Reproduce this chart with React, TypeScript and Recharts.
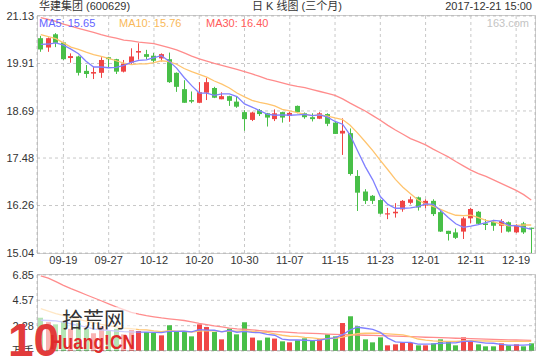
import React from 'react';
import { ComposedChart, Bar, Line, XAxis, YAxis, CartesianGrid } from 'recharts';

const dates = [
  '09-14','09-15','09-18','09-19','09-20','09-21','09-22','09-25','09-26','09-27','09-28','09-29',
  '10-09','10-10','10-11','10-12','10-13','10-16','10-17','10-18','10-19','10-20','10-23','10-24','10-25','10-26','10-27','10-30','10-31',
  '11-01','11-02','11-03','11-06','11-07','11-08','11-09','11-10','11-13','11-14','11-15','11-16','11-17','11-20','11-21','11-22','11-23','11-24','11-27','11-28','11-29','11-30',
  '12-01','12-04','12-05','12-06','12-07','12-08','12-11','12-12','12-13','12-14','12-15','12-18','12-19','12-20','12-21',
];
const opens = [20.56,20.32,20.66,20.45,20.05,20.09,19.72,19.65,19.67,20.07,20.02,19.70,19.93,20.19,20.15,20.11,20.04,20.02,19.67,19.25,18.97,18.90,19.16,19.28,18.99,19.07,18.93,18.66,18.46,18.71,18.63,18.48,18.66,18.56,18.82,18.63,18.53,18.49,18.61,18.39,18.11,18.12,17.02,16.62,16.51,16.40,16.03,16.06,16.16,16.33,16.47,16.26,16.38,16.09,15.61,15.57,15.59,15.93,16.10,15.80,15.84,15.74,15.83,15.57,15.80,15.69];
const highs = [20.62,20.58,20.69,20.46,20.17,20.11,19.87,19.83,20.07,20.08,20.03,20.00,20.30,20.43,20.26,20.18,20.17,20.19,19.68,19.48,19.19,19.43,19.54,19.31,19.17,19.08,19.05,18.71,18.67,18.74,18.64,18.73,18.67,18.67,18.83,18.65,18.63,18.66,18.63,18.41,18.50,18.24,17.17,16.68,16.53,16.42,16.20,16.32,16.40,16.49,16.49,16.42,16.42,16.12,15.61,15.67,15.97,16.20,16.12,15.91,15.89,15.91,15.85,15.78,15.84,15.69];
const lows = [20.21,20.21,20.33,20.00,19.93,19.60,19.54,19.51,19.54,19.79,19.64,19.68,19.90,20.01,20.02,19.92,19.96,19.41,19.18,18.90,18.89,18.89,18.97,19.02,18.99,18.82,18.77,18.18,18.43,18.56,18.29,18.43,18.39,18.41,18.63,18.49,18.42,18.48,18.30,18.10,17.56,17.03,16.12,16.30,16.30,16.03,15.91,15.95,16.10,16.29,16.13,16.19,15.99,15.58,15.36,15.40,15.40,15.80,15.76,15.63,15.61,15.56,15.57,15.55,15.53,15.04];
const closes = [20.27,20.56,20.44,20.02,20.10,19.67,19.64,19.69,20.00,20.02,19.70,19.90,20.09,20.23,20.08,19.98,20.15,19.43,19.31,18.90,18.93,19.17,19.43,19.03,19.07,18.95,18.80,18.48,18.65,18.61,18.52,18.63,18.52,18.64,18.66,18.53,18.48,18.63,18.36,18.10,18.18,17.07,16.59,16.38,16.38,16.05,16.06,16.10,16.38,16.42,16.21,16.38,16.04,15.59,15.53,15.43,15.93,16.17,15.79,15.76,15.74,15.86,15.59,15.74,15.57,15.66];
const ma5 = [20.40,20.41,20.44,20.38,20.28,20.16,19.97,19.82,19.82,19.80,19.81,19.86,19.94,19.99,20.00,20.06,20.11,19.97,19.79,19.55,19.34,19.15,19.15,19.09,19.13,19.13,19.06,18.87,18.79,18.70,18.61,18.58,18.59,18.58,18.59,18.60,18.57,18.59,18.53,18.42,18.35,18.07,17.66,17.26,16.92,16.49,16.29,16.19,16.19,16.20,16.23,16.30,16.29,16.13,15.95,15.79,15.70,15.73,15.77,15.82,15.88,15.86,15.75,15.74,15.70,15.65];
const ma10 = [20.65,20.60,20.55,20.44,20.33,20.27,20.20,20.14,20.09,20.04,19.98,19.92,19.88,19.90,19.90,19.93,19.98,19.96,19.89,19.78,19.70,19.63,19.56,19.46,19.38,19.28,19.15,19.05,18.96,18.91,18.87,18.82,18.73,18.69,18.65,18.60,18.57,18.59,18.56,18.51,18.47,18.32,18.12,17.90,17.67,17.42,17.18,16.93,16.73,16.56,16.40,16.30,16.24,16.16,16.08,16.01,16.00,16.01,15.95,15.88,15.84,15.78,15.74,15.75,15.76,15.76];
const ma30 = [21.09,21.04,20.99,20.92,20.87,20.81,20.76,20.71,20.65,20.60,20.56,20.51,20.49,20.46,20.44,20.42,20.37,20.32,20.26,20.18,20.10,20.03,19.97,19.91,19.86,19.81,19.76,19.70,19.64,19.58,19.51,19.46,19.41,19.36,19.32,19.29,19.24,19.19,19.14,19.09,19.00,18.89,18.79,18.69,18.57,18.45,18.32,18.20,18.09,17.98,17.90,17.82,17.71,17.61,17.51,17.39,17.28,17.17,17.08,17.01,16.92,16.83,16.74,16.65,16.54,16.40];
const volumes = [3.0,2.6,2.4,2.7,2.0,2.5,2.0,1.6,2.2,1.8,2.0,1.5,1.9,1.80,1.71,1.62,1.41,2.32,1.77,1.77,1.32,2.40,2.16,1.71,1.05,2.02,1.50,2.59,1.21,0.96,1.21,1.12,0.87,0.78,0.96,1.14,0.96,1.05,1.50,1.32,2.52,3.13,2.23,1.05,0.78,1.23,0.51,0.60,0.78,0.72,0.51,0.51,0.69,1.05,0.87,0.51,1.23,0.81,0.60,0.42,0.42,0.69,0.51,0.60,0.42,0.69];
const volMa5 = [2.77,2.75,2.72,2.60,2.45,2.30,2.15,2.00,1.90,1.85,1.80,1.75,1.72,1.71,1.70,1.68,1.66,1.77,1.77,1.78,1.72,1.92,1.88,1.87,1.73,1.87,1.69,1.77,1.67,1.66,1.49,1.42,1.07,0.99,0.99,0.97,0.94,0.98,1.12,1.19,1.47,1.90,2.14,2.05,1.94,1.68,1.16,0.83,0.78,0.77,0.62,0.62,0.64,0.70,0.73,0.73,0.87,0.89,0.80,0.71,0.70,0.59,0.53,0.53,0.53,0.58];
const volMa10 = [3.82,3.60,3.37,3.20,3.00,2.85,2.70,2.55,2.40,2.28,2.18,2.07,2.02,1.93,1.90,1.81,1.75,1.83,1.78,1.78,1.71,1.80,1.83,1.82,1.75,1.79,1.80,1.83,1.77,1.69,1.68,1.55,1.42,1.33,1.32,1.23,1.18,1.10,1.12,1.15,1.25,1.42,1.56,1.60,1.62,1.60,1.55,1.50,1.45,1.30,1.08,0.98,0.92,0.88,0.87,0.87,0.90,0.93,0.92,0.90,0.89,0.88,0.87,0.87,0.87,0.87];
const volMa30 = [6.78,6.57,6.25,5.92,5.62,5.35,5.07,4.80,4.53,4.25,3.98,3.73,3.48,3.32,3.19,3.08,2.98,2.90,2.83,2.75,2.62,2.48,2.37,2.26,2.17,2.07,2.00,1.96,1.91,1.84,1.78,1.75,1.72,1.68,1.64,1.62,1.59,1.56,1.53,1.50,1.48,1.46,1.44,1.42,1.40,1.38,1.36,1.34,1.32,1.30,1.27,1.24,1.22,1.20,1.18,1.15,1.13,1.12,1.10,1.07,1.05,1.03,1.01,0.99,0.98,0.96];

const priceTicks = [15.04, 16.26, 17.48, 18.69, 19.91, 21.13];
const volTicks = [0, 2.28, 4.57, 6.85];
const dateTicks = ['09-19','09-27','10-12','10-20','10-30','11-07','11-15','11-23','12-01','12-11','12-19'];

const RED = '#f04545';
const GREEN = '#48bf48';
const C_MA5 = '#8080ff';
const C_MA10 = '#ffc46e';
const C_MA30 = '#ff8c8c';
const FONT = "'Liberation Sans', 'Noto Sans CJK SC', sans-serif";

const data = dates.map((d, i) => ({
  date: d,
  open: opens[i],
  high: highs[i],
  low: lows[i],
  close: closes[i],
  range: [lows[i], highs[i]],
  ma5: ma5[i],
  ma10: ma10[i],
  ma30: ma30[i],
  vol: volumes[i],
  vma5: volMa5[i],
  vma10: volMa10[i],
  vma30: volMa30[i],
}));

const Candle = (props: any) => {
  const { x, y, width, height, payload } = props;
  if (!payload) return null;
  const { open, close, high, low } = payload;
  const up = close >= open;
  const color = up ? RED : GREEN;
  const top0 = Math.min(y, y + height);
  const h = Math.abs(height);
  const ratio = h / (high - low);
  const yOf = (v: number) => top0 + (high - v) * ratio;
  const bTop = yOf(Math.max(open, close));
  const bBot = yOf(Math.min(open, close));
  const cx = Math.floor(x + width / 2) + 0.5;
  const bx = cx - 2.5;
  return (
    <g>
      <line x1={cx} x2={cx} y1={top0} y2={top0 + h} stroke={color} strokeWidth={1} />
      <rect x={bx} y={bTop} width={5} height={Math.max(1, bBot - bTop)} fill={color} />
    </g>
  );
};

const VolBar = (props: any) => {
  const { x, y, width, height, payload } = props;
  if (!payload) return null;
  const up = payload.close >= payload.open;
  const cx = Math.floor(x + width / 2) + 0.5;
  const top0 = Math.min(y, y + height);
  return <rect x={cx - 2.5} y={top0} width={5} height={Math.abs(height)} fill={up ? RED : GREEN} />;
};

const tickStyle = { fontSize: 11, fill: '#333', fontFamily: FONT };

export default function App() {
  return (
    <div style={{ position: 'absolute', left: 0, top: 0, width: 540, height: 360, background: '#fff', overflow: 'hidden', fontFamily: FONT }}>
      <div style={{ position: 'absolute', left: 0, top: 0 }}>
        <ComposedChart width={540} height={273} data={data} margin={{ top: 16, right: 5, bottom: 0, left: 0 }}>
          <CartesianGrid stroke="#c8c8c8" strokeDasharray="3 3" />
          <XAxis dataKey="date" ticks={dateTicks} interval={0} tickLine={false} axisLine={false} tickSize={0} tickMargin={3} height={20} tick={tickStyle} />
          <YAxis domain={[15.04, 21.13]} ticks={priceTicks} allowDataOverflow tickLine={false} axisLine={false} tickSize={0} tickMargin={3} width={37} tick={tickStyle} tickFormatter={(v: number) => v.toFixed(2)} />
          <Bar dataKey="range" shape={Candle} isAnimationActive={false} />
          <Line type="linear" dataKey="ma30" stroke={C_MA30} strokeWidth={1.3} dot={false} isAnimationActive={false} />
          <Line type="linear" dataKey="ma10" stroke={C_MA10} strokeWidth={1.3} dot={false} isAnimationActive={false} />
          <Line type="linear" dataKey="ma5" stroke={C_MA5} strokeWidth={1.3} dot={false} isAnimationActive={false} />
        </ComposedChart>
      </div>
      <div style={{ position: 'absolute', left: 0, top: 0 }}>
        <ComposedChart width={540} height={360} data={data} margin={{ top: 275, right: 5, bottom: 9, left: 0 }}>
          <CartesianGrid stroke="#c8c8c8" strokeDasharray="3 3" />
          <XAxis dataKey="date" ticks={dateTicks} interval={0} tick={false} tickLine={false} axisLine={false} height={0} />
          <YAxis domain={[0, 6.85]} ticks={volTicks} allowDataOverflow tickLine={false} axisLine={false} tickSize={0} tickMargin={3} width={37} tick={tickStyle} tickFormatter={(v: number) => (v === 0 ? '万手' : v.toFixed(2))} />
          <Bar dataKey="vol" shape={VolBar} isAnimationActive={false} />
          <Line type="linear" dataKey="vma30" stroke={C_MA30} strokeWidth={1.3} dot={false} isAnimationActive={false} />
          <Line type="linear" dataKey="vma10" stroke={C_MA10} strokeWidth={1.3} dot={false} isAnimationActive={false} />
          <Line type="linear" dataKey="vma5" stroke={C_MA5} strokeWidth={1.3} dot={false} isAnimationActive={false} />
        </ComposedChart>
      </div>
      <svg width={540} height={360} style={{ position: 'absolute', left: 0, top: 0 }} fontFamily={FONT}>
        <rect x={37.5} y={15.5} width={498} height={238} fill="none" stroke="#999" strokeDasharray="1 1" />
        <rect x={37.5} y={274.5} width={498} height={76} fill="none" stroke="#999" strokeDasharray="1 1" />
        <text x={39} y={10} fontSize={11} fill="#333">华建集团 (600629)</text>
        <text x={252} y={10} fontSize={11} fill="#333">日 K 线图 (三个月)</text>
        <text x={532} y={10} fontSize={11} fill="#333" textAnchor="end">2017-12-21 15:00</text>
        <text x={39} y={27} fontSize={11} fill="#6464ff">MA5: 15.65</text>
        <text x={119} y={27} fontSize={11} fill="#f9b95a">MA10: 15.76</text>
        <text x={206} y={27} fontSize={11} fill="#ff5a5a">MA30: 16.40</text>
        <text x={529} y={27} fontSize={11} fill="#c4c4c4" textAnchor="end">163.com</text>
        <rect x={38} y={307} width={98} height={43} fill="#fff" opacity={0.6} />
        <text x={8} y={356} fontSize={46} fontWeight="bold" fill="#e23b3b">10</text>
        <text x={62} y={327} fontSize={21} fill="#333">拾荒网</text>
        <text x={50} y={349} fontSize={20} fontWeight="bold" fill="#e02a2a" textLength={85} lengthAdjust="spacingAndGlyphs">Huang!CN</text>
      </svg>
    </div>
  );
}
